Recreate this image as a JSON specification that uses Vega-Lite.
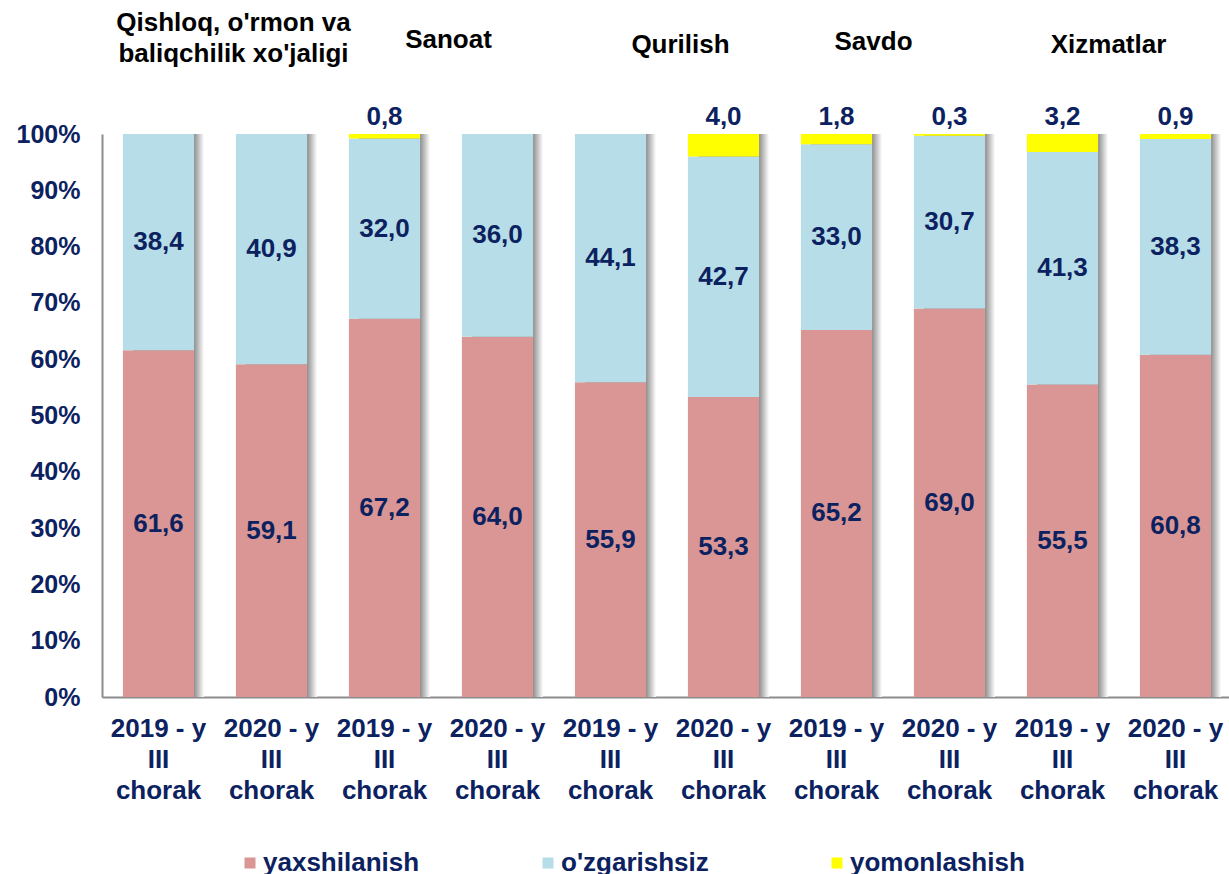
{
  "$schema": "https://vega.github.io/schema/vega-lite/v6.json",
  "width": 1130,
  "height": 563,
  "autosize": {"type": "none"},
  "padding": {"left": 102, "top": 134, "right": 0, "bottom": 177},
  "background": "white",
  "config": {
    "view": {"stroke": null},
    "font": "Liberation Sans",
    "locale": {"number": {"decimal": ",", "thousands": " ", "grouping": [3], "currency": ["", ""]}}
  },
  "data": {
    "values": [
      {"id": "Q-2019", "sector": "Qishloq, o'rmon va baliqchilik xo'jaligi", "cat": "yaxshilanish", "ord": 1, "value": 61.6},
      {"id": "Q-2019", "sector": "Qishloq, o'rmon va baliqchilik xo'jaligi", "cat": "o'zgarishsiz", "ord": 2, "value": 38.4},
      {"id": "Q-2019", "sector": "Qishloq, o'rmon va baliqchilik xo'jaligi", "cat": "yomonlashish", "ord": 3, "value": 0},
      {"id": "Q-2020", "sector": "Qishloq, o'rmon va baliqchilik xo'jaligi", "cat": "yaxshilanish", "ord": 1, "value": 59.1},
      {"id": "Q-2020", "sector": "Qishloq, o'rmon va baliqchilik xo'jaligi", "cat": "o'zgarishsiz", "ord": 2, "value": 40.9},
      {"id": "Q-2020", "sector": "Qishloq, o'rmon va baliqchilik xo'jaligi", "cat": "yomonlashish", "ord": 3, "value": 0},
      {"id": "S-2019", "sector": "Sanoat", "cat": "yaxshilanish", "ord": 1, "value": 67.2},
      {"id": "S-2019", "sector": "Sanoat", "cat": "o'zgarishsiz", "ord": 2, "value": 32.0},
      {"id": "S-2019", "sector": "Sanoat", "cat": "yomonlashish", "ord": 3, "value": 0.8},
      {"id": "S-2020", "sector": "Sanoat", "cat": "yaxshilanish", "ord": 1, "value": 64.0},
      {"id": "S-2020", "sector": "Sanoat", "cat": "o'zgarishsiz", "ord": 2, "value": 36.0},
      {"id": "S-2020", "sector": "Sanoat", "cat": "yomonlashish", "ord": 3, "value": 0},
      {"id": "C-2019", "sector": "Qurilish", "cat": "yaxshilanish", "ord": 1, "value": 55.9},
      {"id": "C-2019", "sector": "Qurilish", "cat": "o'zgarishsiz", "ord": 2, "value": 44.1},
      {"id": "C-2019", "sector": "Qurilish", "cat": "yomonlashish", "ord": 3, "value": 0},
      {"id": "C-2020", "sector": "Qurilish", "cat": "yaxshilanish", "ord": 1, "value": 53.3},
      {"id": "C-2020", "sector": "Qurilish", "cat": "o'zgarishsiz", "ord": 2, "value": 42.7},
      {"id": "C-2020", "sector": "Qurilish", "cat": "yomonlashish", "ord": 3, "value": 4.0},
      {"id": "V-2019", "sector": "Savdo", "cat": "yaxshilanish", "ord": 1, "value": 65.2},
      {"id": "V-2019", "sector": "Savdo", "cat": "o'zgarishsiz", "ord": 2, "value": 33.0},
      {"id": "V-2019", "sector": "Savdo", "cat": "yomonlashish", "ord": 3, "value": 1.8},
      {"id": "V-2020", "sector": "Savdo", "cat": "yaxshilanish", "ord": 1, "value": 69.0},
      {"id": "V-2020", "sector": "Savdo", "cat": "o'zgarishsiz", "ord": 2, "value": 30.7},
      {"id": "V-2020", "sector": "Savdo", "cat": "yomonlashish", "ord": 3, "value": 0.3},
      {"id": "X-2019", "sector": "Xizmatlar", "cat": "yaxshilanish", "ord": 1, "value": 55.5},
      {"id": "X-2019", "sector": "Xizmatlar", "cat": "o'zgarishsiz", "ord": 2, "value": 41.3},
      {"id": "X-2019", "sector": "Xizmatlar", "cat": "yomonlashish", "ord": 3, "value": 3.2},
      {"id": "X-2020", "sector": "Xizmatlar", "cat": "yaxshilanish", "ord": 1, "value": 60.8},
      {"id": "X-2020", "sector": "Xizmatlar", "cat": "o'zgarishsiz", "ord": 2, "value": 38.3},
      {"id": "X-2020", "sector": "Xizmatlar", "cat": "yomonlashish", "ord": 3, "value": 0.9}
    ]
  },
  "layer": [
    {
      "encoding": {
        "x": {
          "field": "id", "type": "nominal", "sort": null,
          "scale": {"paddingInner": 0.37, "paddingOuter": 0.185},
          "axis": {
            "title": null, "labelAngle": 0, "ticks": false,
            "domainColor": "#8c8c8c", "domainWidth": 2,
            "labelFontSize": 26, "labelFontWeight": "bold", "labelColor": "#0c2260",
            "labelLineHeight": 31, "labelPadding": 18, "labelBaseline": "top", "labelLimit": 300,
            "labelExpr": "[slice(datum.label, -4) + ' - y', 'III', 'chorak']"
          }
        }
      },
      "layer": [
        {
          "transform": [{"filter": "datum.ord == 1"}],
          "mark": {
            "type": "bar", "xOffset": 10,
            "color": {"gradient": "linear", "x1": 0, "x2": 1, "y1": 0, "y2": 0,
              "stops": [{"offset": 0, "color": "#8a8a8a"}, {"offset": 0.86, "color": "#8f8f8f"}, {"offset": 1, "color": "#ffffff"}]}
          },
          "encoding": {
            "y": {
              "datum": 100, "type": "quantitative", "title": null,
              "scale": {"domain": [0, 100], "nice": false},
              "axis": {
                "title": null, "values": [0, 10, 20, 30, 40, 50, 60, 70, 80, 90, 100],
                "labelExpr": "datum.value + '%'", "grid": false, "ticks": false,
                "domainColor": "#8c8c8c", "domainWidth": 2,
                "labelFontSize": 25, "labelFontWeight": "bold", "labelColor": "#0c2260",
                "labelPadding": 22
              }
            },
            "y2": {"datum": 0}
          }
        },
        {
          "mark": {"type": "bar"},
          "encoding": {
            "y": {"field": "value", "type": "quantitative", "stack": "zero", "title": null},
            "order": {"field": "ord", "type": "quantitative"},
            "color": {
              "field": "cat", "type": "nominal",
              "scale": {"domain": ["yaxshilanish", "o'zgarishsiz", "yomonlashish"], "range": ["#d99694", "#b7dde8", "#ffff00"]},
              "legend": {
                "orient": "none", "legendX": 135, "legendY": 716, "direction": "horizontal",
                "columns": 3, "gridAlign": "each", "columnPadding": 115, "title": null,
                "symbolType": "square", "symbolSize": 121, "symbolStrokeWidth": 0,
                "labelFontSize": 26, "labelFontWeight": "bold", "labelColor": "#0c2260",
                "labelOffset": 0, "labelLimit": 300
              }
            }
          }
        },
        {
          "transform": [
            {"stack": "value", "groupby": ["id"], "sort": [{"field": "ord"}], "as": ["v0", "v1"]},
            {"filter": "datum.cat != 'yomonlashish' && datum.value > 0"},
            {"fold": ["v0", "v1"], "as": ["edge", "pos"]},
            {"aggregate": [{"op": "mean", "field": "pos", "as": "mid"}], "groupby": ["id", "cat", "value"]}
          ],
          "mark": {"type": "text", "fontSize": 26, "fontWeight": "bold", "color": "#0c2260", "baseline": "middle"},
          "encoding": {
            "y": {"field": "mid", "type": "quantitative", "title": null},
            "text": {"field": "value", "type": "quantitative", "format": ".1f"}
          }
        },
        {
          "transform": [{"filter": "datum.cat == 'yomonlashish' && datum.value > 0"}],
          "mark": {"type": "text", "fontSize": 26, "fontWeight": "bold", "color": "#0c2260", "baseline": "bottom", "dy": -4},
          "encoding": {
            "y": {"datum": 100, "type": "quantitative", "title": null},
            "text": {"field": "value", "type": "quantitative", "format": ".1f"}
          }
        }
      ]
    },
    {
      "mark": {"type": "point", "opacity": 0},
      "encoding": {
        "x": {
          "field": "sector", "type": "nominal", "sort": null,
          "scale": {"paddingInner": 0, "paddingOuter": 0},
          "axis": {
            "orient": "top", "title": null, "labelAngle": 0, "ticks": false, "domain": false,
            "labelFontSize": 26, "labelFontWeight": "bold", "labelColor": "#000000",
            "labelLineHeight": 31, "labelLimit": 400, "labelBaseline": "bottom",
            "labelExpr": "indexof(datum.label, 'Qishloq') == 0 ? [\"Qishloq, o'rmon va\", \"baliqchilik xo'jaligi\"] : datum.label",
            "labelOffset": {
              "condition": [
                {"test": "indexof(datum.value, 'Qishloq') == 0", "value": 18},
                {"test": "datum.value == 'Sanoat'", "value": 7},
                {"test": "datum.value == 'Qurilish'", "value": 13},
                {"test": "datum.value == 'Savdo'", "value": -20}
              ],
              "value": -11
            },
            "labelPadding": {
              "condition": [
                {"test": "indexof(datum.value, 'Qishloq') == 0", "value": 99},
                {"test": "datum.value == 'Sanoat'", "value": 82},
                {"test": "datum.value == 'Savdo'", "value": 80}
              ],
              "value": 77
            }
          }
        },
        "y": {"field": "value", "type": "quantitative", "title": null}
      }
    }
  ],
  "resolve": {"scale": {"x": "independent"}, "axis": {"x": "independent"}}
}
